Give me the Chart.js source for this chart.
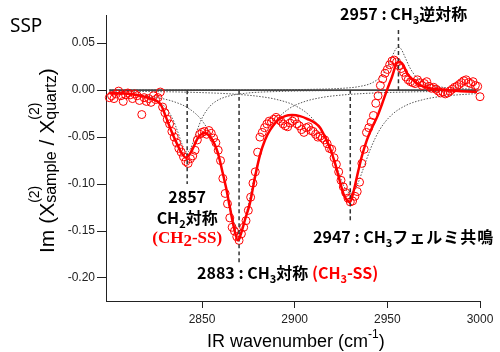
<!DOCTYPE html>
<html><head><meta charset="utf-8">
<script src="https://cdn.jsdelivr.net/npm/chart.js@4/dist/chart.umd.min.js"></script>
<style>html,body{margin:0;padding:0;background:#fff;}#c{display:block;}</style>
</head><body>
<canvas id="c" width="500" height="352"></canvas>
<script>
// ---- data ----
const wavenumber = [
2800,2801.25,2802.5,2803.75,2805,2806.25,2807.5,2808.75,
2810,2811.25,2812.5,2813.75,2815,2816.25,2817.5,2818.75,
2820,2821.25,2822.5,2823.75,2825,2826.25,2827.5,2828.75,
2830,2831.25,2832.5,2833.75,2835,2836.25,2837.5,2838.75,
2840,2841.25,2842.5,2843.75,2845,2846.25,2847.5,2848.75,
2850,2851.25,2852.5,2853.75,2855,2856.25,2857.5,2858.75,
2860,2861.25,2862.5,2863.75,2865,2866.25,2867.5,2868.75,
2870,2871.25,2872.5,2873.75,2875,2876.25,2877.5,2878.75,
2880,2881.25,2882.5,2883.75,2885,2886.25,2887.5,2888.75,
2890,2891.25,2892.5,2893.75,2895,2896.25,2897.5,2898.75,
2900,2901.25,2902.5,2903.75,2905,2906.25,2907.5,2908.75,
2910,2911.25,2912.5,2913.75,2915,2916.25,2917.5,2918.75,
2920,2921.25,2922.5,2923.75,2925,2926.25,2927.5,2928.75,
2930,2931.25,2932.5,2933.75,2935,2936.25,2937.5,2938.75,
2940,2941.25,2942.5,2943.75,2945,2946.25,2947.5,2948.75,
2950,2951.25,2952.5,2953.75,2955,2956.25,2957.5,2958.75,
2960,2961.25,2962.5,2963.75,2965,2966.25,2967.5,2968.75,
2970,2971.25,2972.5,2973.75,2975,2976.25,2977.5,2978.75,
2980,2981.25,2982.5,2983.75,2985,2986.25,2987.5,2988.75,
2990,2991.25,2992.5,2993.75,2995,2996.25,2997.5,2998.75,
3000];
const signal = [
-0.008,-0.006,-0.009,-0.004,-0.001,-0.006,-0.012,-0.005,
-0.003,-0.005,-0.009,-0.004,-0.006,-0.011,-0.026,-0.008,
-0.012,-0.009,-0.013,-0.006,-0.010,-0.008,-0.002,-0.018,
-0.024,-0.031,-0.036,-0.044,-0.050,-0.056,-0.062,-0.066,
-0.071,-0.076,-0.078,-0.073,-0.070,-0.064,-0.053,-0.047,
-0.045,-0.044,-0.047,-0.043,-0.046,-0.051,-0.056,-0.064,
-0.075,-0.094,-0.110,-0.121,-0.136,-0.146,-0.150,-0.156,
-0.160,-0.153,-0.146,-0.139,-0.128,-0.114,-0.099,-0.087,
-0.066,-0.050,-0.045,-0.040,-0.036,-0.033,-0.034,-0.031,
-0.029,-0.031,-0.033,-0.036,-0.038,-0.039,-0.035,-0.033,
-0.031,-0.036,-0.038,-0.042,-0.045,-0.040,-0.039,-0.043,
-0.044,-0.047,-0.050,-0.049,-0.051,-0.053,-0.057,-0.062,
-0.063,-0.072,-0.079,-0.087,-0.096,-0.103,-0.109,-0.115,
-0.119,-0.118,-0.113,-0.108,-0.098,-0.078,-0.063,-0.045,
-0.040,-0.034,-0.027,-0.014,-0.006,0.005,0.012,0.018,
0.022,0.027,0.031,0.032,0.030,0.026,0.023,0.019,
0.014,0.011,0.009,0.008,0.007,0.011,0.008,0.005,
0.007,0.009,0.004,0.002,0.003,0.001,-0.001,-0.003,
-0.002,-0.004,-0.003,-0.001,0.001,0.003,0.004,0.006,
0.008,0.010,0.011,0.008,0.007,0.009,0.005,0.004,
-0.007];
const fitWn = [2800,2811.2,2821.4,2827.9,2830.6,2833.3,2836,2838.7,2841.4,2844.1,2847.8,2851.1,2854.9,2858.6,2860.8,2863,2865.1,2867.3,2869.4,2871,2873.2,2875.9,2878.6,2881.3,2884,2886.7,2891,2894.8,2898.6,2902.9,2907.2,2911,2913.7,2916.4,2919.1,2921.8,2924.5,2926.6,2928.2,2929.9,2932,2934.2,2936.3,2939,2941.7,2944.4,2947.1,2949.8,2952.5,2955.2,2956.8,2958.5,2960.6,2963.3,2966,2969.2,2973,2982.2,2998.4];
const fitVal = [-0.003,-0.004,-0.0085,-0.016,-0.029,-0.0426,-0.055,-0.066,-0.072,-0.066,-0.051,-0.0457,-0.051,-0.067,-0.085,-0.104,-0.1255,-0.147,-0.160,-0.153,-0.138,-0.120,-0.0926,-0.069,-0.053,-0.0426,-0.032,-0.0277,-0.0266,-0.0277,-0.031,-0.035,-0.040,-0.050,-0.062,-0.078,-0.098,-0.112,-0.117,-0.119,-0.106,-0.087,-0.070,-0.053,-0.040,-0.029,-0.015,0,0.014,0.029,0.030,0.027,0.018,0.012,0.0074,0.004,0.002,0,-0.002];
// fitted components (dotted)
const comp1Wn = [2800,2810,2820,2826,2830,2834,2837,2839,2840.5,2842,2843.5,2845,2847,2850,2854,2858,2864,2874,2890,2930,3000];
const comp1Val = [-0.0019,-0.0032,-0.0065,-0.0113,-0.0178,-0.0299,-0.0448,-0.0564,-0.0633,-0.066,-0.0633,-0.0564,-0.0448,-0.0299,-0.0178,-0.0113,-0.0065,-0.0032,-0.0015,-0.0004,-0.0001];
const comp2Wn = [2800,2815,2825,2835,2843,2850,2855,2859,2862,2865,2867,2868.5,2870,2871.5,2873,2875,2878,2881,2885,2890,2897,2905,2915,2925,2940,2960,3000];
const comp2Val = [-0.0033,-0.0053,-0.0077,-0.0124,-0.0197,-0.0324,-0.0493,-0.0714,-0.0948,-0.122,-0.139,-0.147,-0.150,-0.147,-0.139,-0.122,-0.0948,-0.0714,-0.0493,-0.0324,-0.0197,-0.0124,-0.0077,-0.0053,-0.0033,-0.002,-0.001];
const comp3Wn = [2800,2840,2860,2870,2880,2890,2900,2908,2914,2919,2923,2926,2928,2930,2932,2934,2937,2941,2946,2952,2960,2970,2980,3000];
const comp3Val = [-0.001,-0.0021,-0.0034,-0.0046,-0.0065,-0.0098,-0.0163,-0.027,-0.0418,-0.0621,-0.0838,-0.0998,-0.107,-0.110,-0.107,-0.0998,-0.0838,-0.0621,-0.0418,-0.027,-0.0163,-0.0098,-0.0065,-0.0034];
const comp4Wn = [2800,2880,2910,2925,2935,2942,2947,2950,2952.5,2954.5,2956,2957.5,2959.5,2962,2965,2970,2977,2987,3000];
const comp4Val = [0.0001,0.0003,0.0009,0.0019,0.0039,0.008,0.0155,0.0245,0.0354,0.0436,0.046,0.0436,0.0354,0.0245,0.0155,0.008,0.0039,0.0019,0.001];
const peakWn = [2842, 2870, 2930, 2956];
const peakLineEnd = [-0.100, -0.184, -0.140, 0.067];
const xTicks = [2850, 2900, 2950, 3000];
const yTicks = [-0.20, -0.15, -0.10, -0.05, 0.00, 0.05];
const labelPeak4 = ['2957 : CH', '3', '逆対称'];
const labelPeak1 = ['2857', 'CH', '2', '対称', '(CH', '2', '-SS)'];
const labelPeak2 = ['2883 : CH', '3', '対称 ', '(CH', '3', '-SS)'];
const labelPeak3 = ['2947 : CH', '3', 'フェルミ共鳴'];
const modeLabel = 'SSP';

// ---- helpers ----
const pts = (xs, ys) => xs.map((x, i) => ({x, y: ys[i]}));
const JP = '"Noto Sans CJK JP", "Noto Sans", sans-serif';
const LS = '"Liberation Sans", Arial, sans-serif';
const SERIF = '"Liberation Serif", "DejaVu Serif", serif';
function seg(t, size, o) { return Object.assign({t, size, weight: 'bold', family: JP, color: '#000', dy: 0, ls: 0}, o || {}); }
function segW(ctx, s) {
  ctx.font = s.weight + ' ' + s.size + 'px ' + s.family;
  if (s.ls) { let w = 0; for (const ch of s.t) w += ctx.measureText(ch).width + s.ls; return w; }
  return ctx.measureText(s.t).width;
}
function drawRich(ctx, segs, x, y, align) {
  let total = 0; segs.forEach(s => total += segW(ctx, s));
  let cx = align === 'center' ? x - total / 2 : x;
  ctx.textAlign = 'left'; ctx.textBaseline = 'alphabetic';
  segs.forEach(s => {
    const w = segW(ctx, s);
    ctx.font = s.weight + ' ' + s.size + 'px ' + s.family;
    ctx.fillStyle = s.color;
    if (s.ls) { let px = cx; for (const ch of s.t) { ctx.fillText(ch, px, y + s.dy); px += ctx.measureText(ch).width + s.ls; } }
    else ctx.fillText(s.t, cx, y + s.dy);
    cx += w;
  });
}

const annotations = {
  id: 'annotations',
  afterDraw(chart) {
    const ctx = chart.ctx, xs = chart.scales.x;
    ctx.save();
    // mode label
    ctx.font = '19px "Noto Sans", sans-serif'; ctx.fillStyle = '#000'; ctx.textAlign = 'left'; ctx.textBaseline = 'alphabetic';
    ctx.fillText(modeLabel, 10, 32);
    // peak labels
    drawRich(ctx, [seg(labelPeak4[0], 16), seg(labelPeak4[1], 11, {dy: 4}), seg(labelPeak4[2], 16)], 340, 20, 'left');
    const x1 = xs.getPixelForValue(peakWn[0]);
    drawRich(ctx, [seg(labelPeak1[0], 16)], x1, 203, 'center');
    drawRich(ctx, [seg(labelPeak1[1], 16), seg(labelPeak1[2], 11, {dy: 4}), seg(labelPeak1[3], 16)], x1, 224, 'center');
    drawRich(ctx, [seg(labelPeak1[4], 17, {family: SERIF, color: '#ff0000'}), seg(labelPeak1[5], 17, {family: SERIF, color: '#ff0000', dy: 3}), seg(labelPeak1[6], 17, {family: SERIF, color: '#ff0000'})], x1, 243, 'center');
    drawRich(ctx, [seg(labelPeak2[0], 16), seg(labelPeak2[1], 11, {dy: 4}), seg(labelPeak2[2], 16),
                   seg(labelPeak2[3], 16, {color: '#ff0000'}), seg(labelPeak2[4], 11, {dy: 4, color: '#ff0000'}), seg(labelPeak2[5], 16, {color: '#ff0000'})], 197, 279, 'left');
    drawRich(ctx, [seg(labelPeak3[0], 16), seg(labelPeak3[1], 11, {dy: 4}), seg(labelPeak3[2], 16, {ls: 1})], 313, 243, 'left');
    // x axis title
    drawRich(ctx, [seg('IR wavenumber (cm', 18, {weight: 'normal', family: LS}), seg('-1', 12, {weight: 'normal', family: LS, dy: -9}), seg(')', 18, {weight: 'normal', family: LS})], 207, 347, 'left');
    // y axis title (rotated)
    ctx.translate(54, 253); ctx.rotate(-Math.PI / 2);
    const main = s => seg(s, 21, {weight: 'normal', family: LS});
    const sup = s => seg(s, 14, {weight: 'normal', family: LS, dy: -15});
    const sub = s => seg(s, 16, {weight: 'normal', family: LS, dy: 2});
    let cx = 0;
    const put = (s) => { ctx.font = s.weight + ' ' + s.size + 'px ' + s.family; ctx.fillStyle = '#000'; ctx.textAlign = 'left'; ctx.fillText(s.t, cx, s.dy); return ctx.measureText(s.t).width; };
    cx += put(main('Im (X'));
    let a = put(sup('(2)')), b = put(sub('sample')); cx += Math.max(a, b);
    cx += put(main(' / X'));
    a = put(sup('(2)')); b = put(sub('quartz')); cx += Math.max(a, b);
    cx += put(main(')'));
    ctx.restore();
  }
};

const lineDs = (data, color, width, dash, order) => ({data, showLine: true, borderColor: color, borderWidth: width, borderDash: dash, pointRadius: 0, fill: false, order, cubicInterpolationMode: 'monotone', clip: false});
const datasets = [
  lineDs(pts(fitWn, fitVal), '#ff0000', 2.5, [], 0),
  ...peakWn.map((w, i) => lineDs([{x: w, y: 0}, {x: w, y: peakLineEnd[i]}], '#333', 1.5, [4, 3], 1)),
  {data: pts(wavenumber, signal), showLine: false, pointRadius: 4, pointStyle: 'circle', pointBorderColor: '#ff0000', pointBackgroundColor: 'rgba(0,0,0,0)', pointBorderWidth: 1, order: 2, clip: false},
  lineDs([{x: 2800, y: 0}, {x: 2998, y: 0}], '#444', 1.8, [], 3),
  lineDs(pts(comp1Wn, comp1Val), '#555', 1, [1.5, 1.5], 4),
  lineDs(pts(comp2Wn, comp2Val), '#555', 1, [1.5, 1.5], 4),
  lineDs(pts(comp3Wn, comp3Val), '#555', 1, [1.5, 1.5], 4),
  lineDs(pts(comp4Wn, comp4Val), '#555', 1, [1.5, 1.5], 4)
];

new Chart(document.getElementById('c'), {
  type: 'scatter',
  data: {datasets},
  options: {
    responsive: false, animation: false, events: [],
    layout: {padding: {left: 0, right: 20, top: 15, bottom: 0}},
    plugins: {legend: {display: false}, tooltip: {enabled: false}},
    scales: {
      x: {
        type: 'linear', min: 2798.2, max: 3000,
        afterBuildTicks: s => { s.ticks = xTicks.map(v => ({value: v})); },
        afterFit: s => { s.height = 51; },
        grid: {drawOnChartArea: false, drawTicks: true, tickLength: 7, color: '#222', lineWidth: 1},
        border: {display: true, color: '#222', width: 1},
        ticks: {font: {family: LS, size: 12}, color: '#222', padding: 4, maxRotation: 0, callback: v => String(v)}
      },
      y: {
        type: 'linear', min: -0.2245, max: 0.08,
        afterBuildTicks: s => { s.ticks = yTicks.map(v => ({value: v})); },
        afterFit: s => { s.width = 106; },
        grid: {drawOnChartArea: false, drawTicks: true, tickLength: 9, color: '#222', lineWidth: 1},
        border: {display: true, color: '#222', width: 1},
        ticks: {font: {family: LS, size: 12}, color: '#222', padding: 2, callback: v => v.toFixed(2)}
      }
    }
  },
  plugins: [annotations]
});
</script>
</body></html>
